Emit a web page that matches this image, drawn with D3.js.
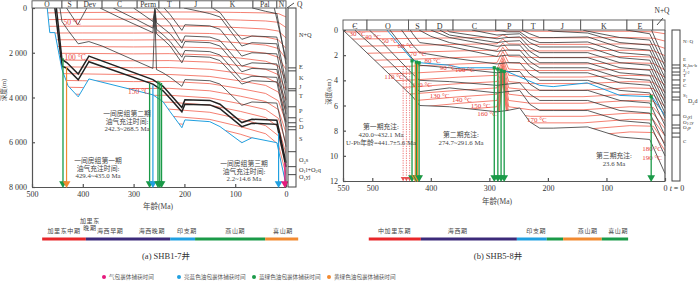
<!DOCTYPE html>
<html>
<head>
<meta charset="utf-8">
<script src="https://cdn.jsdelivr.net/npm/d3@7"></script>
<style>
  body { margin: 0; background: #fff; }
  text { font-family: "Liberation Serif", "Noto Sans CJK SC", serif; }
</style>
</head>
<body>
<svg id="chart" width="700" height="282"></svg>
<script>
// ---------------- panel (a) SHB1-7 ----------------
const periodNamesA = ["O", "S", "Dev", "C", "Perm", "T", "J", "K", "Pal", "N"];
const periodEdgesA = [500, 441, 411, 362, 293, 250, 209, 146, 65, 18, 0];

// burial curves: [age Ma, depth m]
const baseHorizonA = [[470,0],[465,1100],[455,1100],[441,2750],[429,3480],[409,3970],[388,3170],[262,3880],[242,4190],[228,4640],[205,5350],[199,5000],[150,5080],[130,5300],[87,6020],[67,5800],[18,6020],[0,7900]];
const boldHorizonsA = [
  [[455,0],[441,2600],[431,2700],[409,3210],[388,2400],[262,3400],[242,3700],[228,4050],[205,4640],[199,4300],[150,4330],[130,4500],[87,5300],[67,5150],[18,5200],[0,7100]],
  [[452,0],[441,2300],[431,2450],[409,2950],[388,2150],[262,3200],[242,3500],[228,3850],[205,4450],[199,4100],[150,4130],[130,4300],[87,5120],[67,4970],[18,5020],[0,6920]]
];
const horizonsA = [
  [[445,0],[441,600],[429,1000],[409,1600],[388,1500],[362,1700],[262,2700],[258,300],[255,2750],[242,2900],[228,3100],[205,3500],[199,3200],[150,3250],[130,3400],[87,4350],[67,4200],[18,4250],[0,6200]],
  [[432,0],[410,750],[392,0]],
  [[366,0],[330,400],[262,1100],[258,150],[255,1150],[242,1400],[228,1700],[205,2450],[199,2150],[150,2200],[130,2350],[87,3400],[67,3250],[18,3300],[0,5300]],
  [[340,0],[300,450],[262,900],[258,80],[255,950],[242,1200],[228,1500],[205,2200],[199,1900],[150,1950],[130,2100],[87,3200],[67,3050],[18,3100],[0,5100]],
  [[300,0],[262,600],[258,0],[255,650],[242,900],[228,1150],[205,1800],[199,1500],[150,1550],[130,1700],[87,2850],[67,2700],[18,2750],[0,4750]],
  [[256,0],[242,350],[228,700],[205,1560],[199,1250],[150,1300],[130,1450],[87,2600],[67,2450],[18,2500],[0,4500]],
  [[240,0],[228,300],[205,1000],[199,750],[150,800],[130,950],[87,2150],[67,2000],[18,2050],[0,4100]],
  [[201,0],[170,150],[150,250],[130,400],[87,1700],[67,1550],[18,1600],[0,3650]],
  [[145,0],[130,200],[110,800],[87,1400],[67,1250],[18,1300],[0,3350]],
  [[66,0],[40,150],[18,250],[0,2500]],
  [[23,0],[0,2300]]
];

// isotherms 30..200 °C, depth (m) at each age
const isoAgesA = [480, 400, 300, 230, 150, 90, 40, 15, 0];
const isoDepthsA = [
  [220,200,190,180,180,200,220,250,400],
  [520,505,500,490,500,540,580,640,870],
  [820,810,810,800,820,880,940,1030,1340],
  [1120,1115,1120,1110,1140,1220,1300,1420,1810],
  [1420,1420,1430,1420,1460,1560,1660,1810,2280],
  [1720,1725,1740,1730,1780,1900,2020,2200,2750],
  [2020,2030,2050,2040,2100,2240,2380,2590,3220],
  [2320,2335,2360,2350,2420,2580,2740,2980,3690],
  [2620,2640,2670,2660,2740,2920,3100,3370,4160],
  [2920,2945,2980,2970,3060,3260,3460,3760,4630],
  [3220,3250,3290,3280,3380,3600,3820,4150,5100],
  [3520,3555,3600,3590,3700,3940,4180,4540,5570],
  [3820,3860,3910,3900,4020,4280,4540,4930,6040],
  [4120,4165,4220,4210,4340,4620,4900,5320,6510],
  [4420,4470,4530,4520,4660,4960,5260,5710,6980],
  [4720,4775,4840,4830,4980,5300,5620,6100,7450],
  [5020,5080,5150,5140,5300,5640,6000,6490,7920],
  [5320,5385,5460,5450,5620,5980,6360,6880,8390]
];
const isoLabelsA = [["50 °C", 421, 650], ["100 °C", 415, 2200], ["150 °C", 290, 3720]];

// fluid inclusion trapping times: age, start depth, type
const incAgesA = [439, 432, 268.5, 262, 252, 248.5, 245, 14.6, 2.2];
const incTopsA = [2230, 2650, 3380, 3450, 3250, 3300, 3350, 5600, 6900];
const incTypesA = ["bg", "yg", "bg", "lb", "bg", "bg", "bg", "lb", "gas"];

// strat column
const colBoundsA = [2676, 2810, 3610, 3700, 4415, 4906, 5129, 5307, 5441, 6422, 7091, 7448];
const colLabelsA = ["N+Q", "E", "K", "J", "T", "P", "C", "D", "S", "O_{3}s", "O_{1}l+O_{2}q", "O_{1}yj"];
const colLabelDepthsA = [1290, 2720, 3210, 3610, 4010, 4680, 5100, 5400, 5930, 6870, 7310, 7650];

// tectonic stages
const stageNamesA = ["加里东中期", "加里东晚期", "海西早期", "海西晚期", "印支期", "燕山期", "喜山期"];
const stageLabelAgesA = [437, 386, 346, 264, 195, 100, 6];
const stageBarsA = [[480, 394], [394, 228], [228, 179], [179, 41], [41, -24]];

// ---------------- panel (b) SHB5-8 ----------------
const periodNamesB = ["Є", "O", "S", "D", "C", "P", "T", "J", "K", "E", ""];
const periodEdgesB = [550, 509, 438, 408, 362, 289, 243, 207, 144, 65, 21, 0];

const keyHorizonB = [[475,0],[431,2.4],[419,2.6],[368,2.8],[350,3.0],[294,3.0],[270,3.3],[214,4.4],[191,4.5],[133,4.2],[77,5.2],[22,5.3],[0,6.8]];
const horizonsB = [
  [[550,0],[487,2.8],[431,5.3],[419,6.0],[368,6.1],[287,6.5],[270,6.4],[248,6.2],[231,7.3],[214,7.8],[191,7.8],[132,7.7],[77,8.5],[26,8.7],[0,11.4]],
  [[530,0],[487,1.8],[431,4.3],[419,4.9],[368,4.6],[287,5.0],[270,4.9],[248,4.8],[231,5.9],[214,6.4],[191,6.4],[132,6.4],[77,7.2],[26,7.4],[0,10.0]],
  [[505,0],[487,0.8],[431,3.5],[419,4.0],[368,4.1],[287,4.4],[270,4.3],[248,4.2],[231,5.1],[214,5.6],[191,5.6],[132,5.6],[77,6.4],[26,6.6],[0,9.2]],
  [[470,0],[431,2.3],[419,2.8],[368,3.0],[287,3.4],[270,3.3],[248,3.3],[231,4.3],[214,4.8],[191,4.8],[132,4.8],[77,5.6],[26,5.8],[0,8.4]],
  [[450,0],[431,1.2],[419,1.8],[368,2.2],[287,2.7],[270,2.6],[248,2.6],[231,3.5],[214,4.0],[191,4.0],[132,4.0],[77,4.8],[26,5.0],[0,7.6]],
  [[435,0],[431,0.3],[419,1.0],[368,1.3],[287,2.1],[270,2.0],[248,2.0],[231,2.9],[214,3.4],[191,3.4],[132,3.4],[77,4.2],[26,4.4],[0,7.0]],
  [[420,0],[400,0.5],[368,1.0],[287,1.7],[270,1.6],[248,1.6],[231,2.5],[214,3.0],[191,3.0],[132,3.0],[77,3.8],[26,4.0],[0,6.6]],
  [[400,0],[368,0.6],[287,1.3],[270,1.2],[248,1.2],[231,2.1],[214,2.6],[191,2.6],[132,2.6],[77,3.4],[26,3.6],[0,6.2]],
  [[385,0],[368,0.4],[287,1.0],[270,0.9],[248,0.85],[231,1.7],[214,2.2],[191,2.2],[132,2.2],[77,3.0],[26,3.2],[0,5.8]],
  [[372,0],[368,0.15],[287,0.7],[270,0.6],[248,0.55],[231,1.4],[214,1.8],[191,1.8],[132,1.8],[77,2.6],[26,2.8],[0,5.4]],
  [[330,0],[287,0.4],[270,0.35],[248,0.3],[231,1.0],[214,1.35],[191,1.35],[132,1.35],[77,2.2],[26,2.4],[0,5.0]],
  [[290,0],[270,0.15],[248,0.15],[231,0.7],[214,1.0],[191,1.0],[132,0.95],[77,1.8],[26,2.0],[0,4.6]],
  [[245,0],[231,0.3],[214,0.6],[191,0.6],[132,0.55],[77,1.4],[26,1.6],[0,4.2]],
  [[200,0],[191,0.1],[132,0.24],[77,1.0],[26,1.2],[0,3.8]],
  [[140,0],[132,0.1],[77,0.6],[26,0.8],[0,3.3]],
  [[66,0],[26,0.3],[0,2.9]],
  [[23,0],[0,2.5]]
];

// isotherms 30..190 °C, depth (km); Permian thermal event near 277 Ma
const isoAgesB = [550, 430, 350, 287, 277, 267, 230, 140, 60, 20, 0];
const isoDepthsB = [
  [0.15,0.12,0.10,0.10,0.05,0.10,0.10,0.10,0.10,0.15,0.30],
  [0.73,0.67,0.62,0.60,0.38,0.60,0.62,0.62,0.60,0.65,0.88],
  [1.31,1.22,1.14,1.10,0.71,1.10,1.14,1.14,1.10,1.15,1.46],
  [1.89,1.77,1.66,1.60,1.04,1.60,1.66,1.66,1.60,1.65,2.04],
  [2.47,2.32,2.18,2.10,1.37,2.10,2.18,2.18,2.10,2.15,2.62],
  [3.05,2.87,2.70,2.60,1.70,2.60,2.70,2.70,2.60,2.65,3.20],
  [3.63,3.42,3.22,3.10,2.03,3.10,3.22,3.22,3.10,3.15,3.78],
  [4.21,3.97,3.74,3.60,2.25,3.60,3.74,3.74,3.60,3.65,4.36],
  [4.79,4.52,4.26,4.10,2.45,4.10,4.26,4.26,4.10,4.15,4.94],
  [5.37,5.07,4.78,4.60,2.65,4.60,4.78,4.78,4.60,4.65,5.52],
  [5.95,5.62,5.30,5.10,2.85,5.10,5.30,5.30,5.10,5.15,6.10],
  [6.53,6.17,5.82,5.60,3.05,5.60,5.82,5.82,5.60,5.65,6.68],
  [7.11,6.72,6.34,6.10,3.25,6.10,6.34,6.34,6.10,6.15,7.26],
  [7.69,7.27,6.86,6.60,3.45,6.60,6.86,6.86,6.60,6.65,7.84],
  [8.27,7.82,7.38,7.10,3.65,7.10,7.38,7.38,7.10,7.15,8.42],
  [8.85,8.37,7.90,7.60,3.85,7.60,7.90,7.90,7.60,7.65,9.00],
  [9.43,8.92,8.42,8.10,4.05,8.10,8.42,8.42,8.10,8.15,9.58]
];
const isoLabelsB = [
  ["30 °C", 525, 0.3], ["40 °C", 499, 0.5], ["50 °C", 470, 0.8], ["60 °C", 443, 1.27],
  ["70 °C", 422, 1.9], ["80 °C", 397, 2.46], ["90 °C", 371, 3.0], ["100 °C", 342, 3.18],
  ["110 °C", 463, 3.66], ["120 °C", 415, 4.37], ["130 °C", 385, 5.17], ["140 °C", 347, 5.56],
  ["150 °C", 315, 6.04], ["160 °C", 304, 6.6], ["170 °C", 219, 7.15], ["180 °C", 22, 9.45], ["190 °C", 22, 10.1]
];

const upbAgesB = [447.3, 441.7, 436.1];
const upbTopB = 2.9;
const oilBandB = [426.5, 422.5];
const incAgesB = [432.1, 426.5, 424.5, 422.5, 420.0, 291.6, 285.5, 280.0, 274.7, 23.6];
const incTopsB = [2.45, 2.55, 2.55, 2.6, 2.6, 3.0, 3.1, 3.2, 3.3, 5.3];
const incTypesB = ["bg", "yg", "bg", "yg", "bg", "bg", "bg", "bg", "bg", "bg"];

const colBoundsB = [2.78, 3.02, 3.34, 3.58, 3.97, 4.37, 4.61, 4.93, 5.33, 5.56, 6.76, 7.55, 7.79, 8.19, 8.51];
const colLabelsB = ["N+Q", "E", "K_{1}bs-b", "J_{1-2}", "T", "P", "C", "S_{1}", "O_{3}yj", "O_{1-2}y", "O_{1}p", "Є"];
const colLabelDepthsB = [1.03, 2.5, 2.95, 3.35, 3.75, 4.15, 4.55, 5.3, 7.0, 7.45, 7.9, 9.0];

const stageNamesB = ["中加里东期", "海西期", "印支期", "燕山期", "喜山期"];
const stageLabelAgesB = [462, 354, 220, 132, 80];
const stageBarsB = [[506, 417], [417, 253], [253, 202], [202, 174], [174, 108], [108, 63]];

const legendNames = ["气包裹体捕获时间", "亮蓝色油包裹体捕获时间", "蓝绿色油包裹体捕获时间", "黄绿色油包裹体捕获时间"];
const legendTypes = ["gas", "lb", "bg", "yg"];

// ---------------- drawing ----------------
const col = {
  ink: "#333", text: "#444", red: "#f1604e", redText: "#e8403a", blue: "#20a0e0",
  green: "#1a9a48", orange: "#f28a30", pink: "#e6197c", purple: "#3c2a7a"
};
const incColor = { gas: col.pink, lb: col.blue, bg: col.green, yg: col.orange };
const stageColorsA = ["#e8262a", col.purple, col.blue, col.green, col.orange];
const stageColorsB = ["#e8262a", col.purple, col.blue, col.green, col.orange, col.green];

const svg = d3.select("#chart");
svg.append("rect").attr("width", 700).attr("height", 282).attr("fill", "#fff");

const xA = d3.scaleLinear().domain([500, 0]).range([32, 286]);
const yA = d3.scaleLinear().domain([0, 8000]).range([8, 187]);
const xB = d3.scaleLinear().domain([550, 0]).range([343, 665]);
const yB = d3.scaleLinear().domain([0, 12]).range([30, 181]);

// text with _{sub} subscripts
function rich(t, str, fs) {
  const parts = str.split(/_\{([^}]*)\}/);
  let cur = 0;
  parts.forEach((p, i) => {
    if (p === "") return;
    const sub = i % 2 === 1;
    const off = sub ? fs * 0.3 : 0;
    t.append("tspan").attr("dy", off - cur).attr("font-size", sub ? fs * 0.68 : fs).text(p);
    cur = off;
  });
}

function panel(o) {
  const { x, y } = o;
  const g = svg.append("g");
  const line = d3.line().x(d => x(d[0])).y(d => y(d[1]));

  // basin between surface and deepest horizon
  const clipId = "clip" + o.id;
  g.append("clipPath").attr("id", clipId).append("path")
    .attr("d", d3.area().x(d => x(d[0])).y0(y(0)).y1(d => y(d[1]))(o.clipHorizon));

  const iso = g.append("g").attr("clip-path", `url(#${clipId})`);
  iso.selectAll("path").data(o.isoDepths).join("path")
    .attr("d", row => line(row.map((d, i) => [o.isoAges[i], d])))
    .attr("fill", "none").attr("stroke", col.red).attr("stroke-width", 0.8);

  g.append("g").selectAll("path").data(o.horizons).join("path")
    .attr("d", line).attr("fill", "none").attr("stroke", col.ink).attr("stroke-width", 0.8);
  if (o.bold) g.append("g").selectAll("path").data(o.bold).join("path")
    .attr("d", line).attr("fill", "none").attr("stroke", "#222").attr("stroke-width", 1.5);
  g.append("path").attr("d", line(o.blue)).attr("fill", "none")
    .attr("stroke", col.blue).attr("stroke-width", 1);

  g.append("g").selectAll("text").data(o.isoLabels).join("text")
    .attr("x", d => x(d[1])).attr("y", d => y(d[2])).attr("text-anchor", "middle")
    .attr("dy", "0.35em").attr("font-size", o.isoFs).attr("fill", col.redText).text(d => d[0]);

  const fmt = d => d3.format(",")(d).replace(/,/g, " ");
  const ax = g.append("g").attr("transform", `translate(${x.range()[0]},0)`)
    .call(d3.axisLeft(y).tickValues(o.yTicks).tickSizeInner(-3).tickSizeOuter(0).tickPadding(5).tickFormat(fmt));
  const bx = g.append("g").attr("transform", `translate(0,${y.range()[1]})`)
    .call(d3.axisBottom(x).tickValues(o.xTicks).tickSizeInner(-3).tickSizeOuter(0).tickPadding(4));
  [ax, bx].forEach(a => {
    a.attr("font-family", null).attr("font-size", 8);
    a.selectAll("path,line").attr("stroke", "#555").attr("stroke-width", 1.2);
    a.selectAll("text").attr("fill", "#333");
  });
  g.append("line").attr("x1", x.range()[1]).attr("x2", x.range()[1])
    .attr("y1", y.range()[0]).attr("y2", y.range()[1]).attr("stroke", "#555").attr("stroke-width", 1.2);

  const hd = g.append("g");
  o.periodNames.forEach((n, i) => {
    const x0 = x(o.periodEdges[i]), x1 = x(o.periodEdges[i + 1]);
    hd.append("rect").attr("x", x0).attr("y", o.head[0]).attr("width", x1 - x0)
      .attr("height", o.head[1] - o.head[0]).attr("fill", "#fff").attr("stroke", "#555").attr("stroke-width", 0.9);
    hd.append("text").attr("x", (x0 + x1) / 2).attr("y", o.head[1] - 1.2).attr("text-anchor", "middle")
      .attr("font-size", o.headFs).attr("fill", "#333").text(n);
  });
  return g;
}

function inclusions(g, x, y, ages, tops, types, bottom) {
  ages.forEach((a, i) => {
    const c = incColor[types[i]];
    const xx = x(a);
    g.append("line").attr("x1", xx).attr("x2", xx).attr("y1", y(tops[i])).attr("y2", bottom - 5)
      .attr("stroke", c).attr("stroke-width", types[i] === "bg" ? 1.3 : 1.2);
    g.append("path").attr("d", d3.symbol().type(d3.symbolTriangle).size(26)())
      .attr("transform", `translate(${xx},${bottom - 3.5}) rotate(180)`).attr("fill", c);
  });
}

function column(g, x0, y, bounds, labels, labelDepths, fs) {
  const [t, b] = y.range();
  g.append("rect").attr("x", x0).attr("y", t).attr("width", 8).attr("height", b - t)
    .attr("fill", "#fff").attr("stroke", "#444").attr("stroke-width", 1);
  g.selectAll(null).data(bounds).join("line")
    .attr("x1", x0).attr("x2", x0 + 8).attr("y1", d => y(d)).attr("y2", d => y(d))
    .attr("stroke", "#444").attr("stroke-width", 1);
  labels.forEach((l, i) => {
    const tx = g.append("text").attr("x", x0 + 11).attr("y", y(labelDepths[i])).attr("dy", "0.35em")
      .attr("font-size", fs).attr("fill", "#333");
    rich(tx, l, fs);
  });
}

function stages(g, x, names, labelAges, bars, colors, barY) {
  bars.forEach((b, i) => {
    g.append("line").attr("x1", x(b[0])).attr("x2", x(b[1])).attr("y1", barY).attr("y2", barY)
      .attr("stroke", colors[i]).attr("stroke-width", 3);
  });
  names.forEach((n, i) => {
    const t = g.append("text").attr("x", x(labelAges[i])).attr("text-anchor", "middle")
      .attr("font-size", 6).attr("letter-spacing", 0.6).attr("fill", col.text);
    if (n === "加里东晚期") {
      t.attr("y", 223);
      t.append("tspan").attr("x", x(labelAges[i])).text("加里东");
      t.append("tspan").attr("x", x(labelAges[i])).attr("dy", 7).text("晚期");
    } else t.attr("y", barY - 6).text(n);
  });
}

function notes(g, list, fs, gap) {
  list.forEach(([nx, ny, lines]) => {
    lines.forEach((s, i) => g.append("text").attr("x", nx).attr("y", ny + i * gap).attr("text-anchor", "middle")
      .attr("font-size", fs).attr("fill", col.text).text(s));
  });
}

// ---- panel (a)
const gA = panel({
  id: "A", x: xA, y: yA, clipHorizon: baseHorizonA, isoAges: isoAgesA, isoDepths: isoDepthsA,
  horizons: horizonsA, bold: boldHorizonsA, blue: baseHorizonA, isoLabels: isoLabelsA, isoFs: 7.5,
  yTicks: [0, 2000, 4000, 6000, 8000], xTicks: [500, 400, 300, 200, 100, 0],
  periodNames: periodNamesA, periodEdges: periodEdgesA, head: [0.8, 8], headFs: 7.5
});
inclusions(gA, xA, yA, incAgesA, incTopsA, incTypesA, yA.range()[1]);
column(gA, 288, yA, colBoundsA, colLabelsA, colLabelDepthsA, 6.3);
gA.append("text").attr("x", 297).attr("y", 6.5).attr("font-size", 7.5).attr("fill", "#333").text("Q");
gA.append("line").attr("x1", 294).attr("y1", 3).attr("x2", 287).attr("y2", 8).attr("stroke", "#222").attr("stroke-width", 0.8);

notes(gA, [
  [127, 116, ["一间房组第二期", "油气充注时间:", "242.3~268.5 Ma"]],
  [98, 163, ["一间房组第一期", "油气充注时间:", "429.4~435.0 Ma"]],
  [244, 166, ["一间房组第三期", "油气充注时间:", "2.2~14.6 Ma"]]
], 6.8, 7.6);
gA.append("text").attr("transform", "translate(6,90) rotate(-90)").attr("text-anchor", "middle")
  .attr("font-size", 6.5).attr("fill", col.text).text("深度(m)");
gA.append("text").attr("x", 158).attr("y", 209).attr("text-anchor", "middle")
  .attr("font-size", 7.5).attr("fill", col.text).text("年龄(Ma)");
stages(gA, xA, stageNamesA, stageLabelAgesA, stageBarsA, stageColorsA, 239);
gA.append("text").attr("x", 166).attr("y", 259).attr("text-anchor", "middle")
  .attr("font-size", 8.5).attr("fill", "#333").text("(a) SHB1-7井");

// ---- panel (b)
const gB = panel({
  id: "B", x: xB, y: yB, clipHorizon: horizonsB[0], isoAges: isoAgesB, isoDepths: isoDepthsB,
  horizons: horizonsB, bold: null, blue: keyHorizonB, isoLabels: isoLabelsB, isoFs: 7,
  yTicks: [0, 2, 4, 6, 8, 10, 12], xTicks: [550, 500, 400, 300, 200, 100, 0],
  periodNames: periodNamesB, periodEdges: periodEdgesB, head: [20, 30], headFs: 8
});
upbAgesB.forEach(a => {
  gB.append("line").attr("x1", xB(a)).attr("x2", xB(a)).attr("y1", yB(upbTopB)).attr("y2", 176)
    .attr("stroke", "#e85050").attr("stroke-width", 0.8).attr("stroke-dasharray", "1.2,1.2");
  gB.append("path").attr("d", d3.symbol().type(d3.symbolTriangle).size(10)())
    .attr("transform", `translate(${xB(a)},178.5) rotate(180)`).attr("fill", "#e85050");
});
gB.append("rect").attr("x", xB(oilBandB[0])).attr("y", yB(2.6)).attr("width", xB(oilBandB[1]) - xB(oilBandB[0]))
  .attr("height", 176 - yB(2.6)).attr("fill", "#f8c79a");
inclusions(gB, xB, yB, incAgesB, incTopsB, incTypesB, yB.range()[1]);
incAgesB.forEach((a, i) => {
  if (incTypesB[i] !== "bg") return;
  gB.append("rect").attr("x", xB(a) - 1.6).attr("y", yB(incTopsB[i]) - 1.6).attr("width", 3.2).attr("height", 3.2)
    .attr("fill", col.green);
});
column(gB, 672, yB, colBoundsB, colLabelsB, colLabelDepthsB, 5);
const d3d = gB.append("text").attr("x", 688).attr("y", yB(5.8)).attr("dy", "0.35em").attr("font-size", 6).attr("fill", "#333");
rich(d3d, "D_{3}d", 6);
gB.append("text").attr("x", 662).attr("y", 13).attr("text-anchor", "middle").attr("font-size", 7.5).attr("fill", "#333").text("N+Q");
gB.append("line").attr("x1", 663).attr("y1", 18).attr("x2", 657).attr("y2", 25).attr("stroke", "#222").attr("stroke-width", 0.8);
gB.append("text").attr("x", 677).attr("y", 191).attr("text-anchor", "middle").attr("font-size", 8).attr("fill", "#333")
  .html('<tspan font-style="italic">t</tspan> = 0');

notes(gB, [
  [381, 129, ["第一期充注:", "420.0~432.1 Ma", "U-Pb年龄=441.7±5.6 Ma"]],
  [461, 137, ["第二期充注:", "274.7~291.6 Ma"]],
  [614, 158, ["第三期充注:", "23.6 Ma"]]
], 6.8, 8);
gB.append("text").attr("transform", "translate(331,92) rotate(-90)").attr("text-anchor", "middle")
  .attr("font-size", 6.5).attr("fill", col.text).text("深度(km)");
gB.append("text").attr("x", 497).attr("y", 204).attr("text-anchor", "middle")
  .attr("font-size", 7.5).attr("fill", col.text).text("年龄(Ma)");
stages(gB, xB, stageNamesB, stageLabelAgesB, stageBarsB, stageColorsB, 239);
gB.append("text").attr("x", 498).attr("y", 259).attr("text-anchor", "middle")
  .attr("font-size", 8.5).attr("fill", "#333").text("(b) SHB5-8井");

// legend
const lg = svg.append("g");
legendNames.forEach((n, i) => {
  const lx = 104 + i * 75;
  lg.append("circle").attr("cx", lx).attr("cy", 277).attr("r", 2).attr("fill", incColor[legendTypes[i]]);
  lg.append("text").attr("x", lx + 5).attr("y", 277).attr("dy", "0.35em").attr("font-size", 5.6)
    .attr("fill", "#555").text(n);
});
</script>
</body>
</html>
